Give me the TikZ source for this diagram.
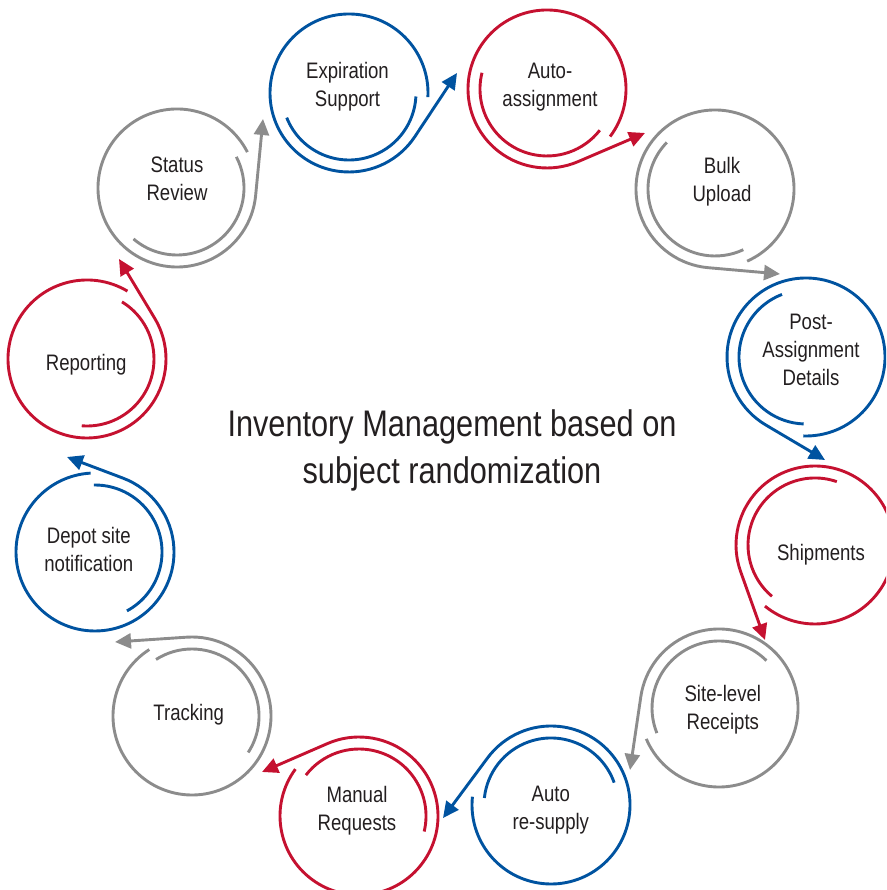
\documentclass[tikz,border=0pt]{standalone}
\usepackage{fontspec}
\setmainfont{Liberation Sans}[FakeStretch=0.83]
\usetikzlibrary{arrows.meta}
\definecolor{cblue}{RGB}{0,83,160}
\definecolor{cred}{RGB}{197,17,48}
\definecolor{cgray}{RGB}{140,140,140}
\definecolor{ctext}{RGB}{35,31,32}
\newcommand\lastdp{\vphantom{p}}
\tikzset{
  ringline/.style={line width=2.9pt, line cap=butt},
  tipped/.style={-{Triangle[length=16pt,width=15pt]}},
  unit/.style={circle, minimum size=158pt, inner sep=0pt, draw=none},
  lbl/.style={align=center, inner sep=0pt, text=ctext, font=\fontsize{22.4}{28}\selectfont},
  ttl/.style={align=center, inner sep=0pt, text=ctext, font=\fontsize{37}{46.3}\selectfont},
}
\begin{document}
\begin{tikzpicture}[x=1pt,y=1pt]
\useasboundingbox (0,0) rectangle (886,890);
\clip (0,0) rectangle (886,890);

% circle anchors
\node[unit] (E)  at (349,797) {};
\node[unit] (A)  at (547,801) {};
\node[unit] (B)  at (715,701) {};
\node[unit] (P)  at (806,533) {};
\node[unit] (S)  at (815,345) {};
\node[unit] (SL) at (719,182) {};
\node[unit] (AR) at (551,85) {};
\node[unit] (M)  at (359,74) {};
\node[unit] (T)  at (192,174) {};
\node[unit] (D)  at (95,338) {};
\node[unit] (R)  at (87,531) {};
\node[unit] (SR) at (177,702) {};

% arrow tips
\coordinate (E-tip)  at (457,817);
\coordinate (A-tip)  at (645,757);
\coordinate (B-tip)  at (780,616);
\coordinate (P-tip)  at (825,430);
\coordinate (S-tip)  at (765,250);
\coordinate (SL-tip) at (630,120);
\coordinate (AR-tip) at (443,72);
\coordinate (M-tip)  at (262,118);
\coordinate (T-tip)  at (115,248);
\coordinate (D-tip)  at (67,433);
\coordinate (R-tip)  at (119,631);
\coordinate (SR-tip) at (263,771);

% Expiration Support (blue)
\draw[ringline, cblue] ([shift={(201.6:67)}]E.center) arc[start angle=201.6, end angle=357, radius=67];
\draw[ringline, cblue, tipped] ([shift={(357:79)}]E.center) arc[start angle=357, end angle=686.5, radius=79] -- (E-tip);
% Auto-assignment (red)
\draw[ringline, cred] ([shift={(166:67)}]A.center) arc[start angle=166, end angle=322, radius=67];
\draw[ringline, cred, tipped] ([shift={(323:79)}]A.center) arc[start angle=323, end angle=653.2, radius=79] -- (A-tip);
% Bulk Upload (gray)
\draw[ringline, cgray] ([shift={(136:67)}]B.center) arc[start angle=136, end angle=295, radius=67];
\draw[ringline, cgray, tipped] ([shift={(294:79)}]B.center) arc[start angle=294, end angle=625, radius=79] -- (B-tip);
% Post-Assignment Details (blue)
\draw[ringline, cblue] ([shift={(111:67)}]P.center) arc[start angle=111, end angle=268, radius=67];
\draw[ringline, cblue, tipped] ([shift={(268:79)}]P.center) arc[start angle=268, end angle=599.45, radius=79] -- (P-tip);
% Shipments (red)
\draw[ringline, cred] ([shift={(71:67)}]S.center) arc[start angle=71, end angle=230, radius=67];
\draw[ringline, cred, tipped] ([shift={(230.7:79)}]S.center) arc[start angle=230.7, end angle=559.6, radius=79] -- (S-tip);
% Site-level Receipts (gray)
\draw[ringline, cgray] ([shift={(45:67)}]SL.center) arc[start angle=45, end angle=202, radius=67];
\draw[ringline, cgray, tipped] ([shift={(203:79)}]SL.center) arc[start angle=203, end angle=531.6, radius=79] -- (SL-tip);
% Auto re-supply (blue)
\draw[ringline, cblue] ([shift={(19.5:67)}]AR.center) arc[start angle=19.5, end angle=174, radius=67];
\draw[ringline, cblue, tipped] ([shift={(174:79)}]AR.center) arc[start angle=174, end angle=503.4, radius=79] -- (AR-tip);
% Manual Requests (red)
\draw[ringline, cred] ([shift={(346.6:67)}]M.center) arc[start angle=346.6, end angle=502.4, radius=67];
\draw[ringline, cred, tipped] ([shift={(143.6:79)}]M.center) arc[start angle=143.6, end angle=473.5, radius=79] -- (M-tip);
% Tracking (gray)
\draw[ringline, cgray] ([shift={(327:67)}]T.center) arc[start angle=327, end angle=482.5, radius=67];
\draw[ringline, cgray, tipped] ([shift={(122.7:79)}]T.center) arc[start angle=122.7, end angle=453.8, radius=79] -- (T-tip);
% Depot site notification (blue)
\draw[ringline, cblue] ([shift={(298.5:67)}]D.center) arc[start angle=298.5, end angle=451, radius=67];
\draw[ringline, cblue, tipped] ([shift={(93.2:79)}]D.center) arc[start angle=93.2, end angle=429.4, radius=79] -- (D-tip);
% Reporting (red)
\draw[ringline, cred] ([shift={(265.5:67)}]R.center) arc[start angle=265.5, end angle=418.5, radius=67];
\draw[ringline, cred, tipped] ([shift={(59.2:79)}]R.center) arc[start angle=59.2, end angle=391, radius=79] -- (R-tip);
% Status Review (gray)
\draw[ringline, cgray] ([shift={(229.5:67)}]SR.center) arc[start angle=229.5, end angle=387.7, radius=67];
\draw[ringline, cgray, tipped] ([shift={(27:79)}]SR.center) arc[start angle=27, end angle=354.5, radius=79] -- (SR-tip);

% labels
\node[lbl] (E-l)  at (347.5,803.65) {Expiration\\Support\lastdp};
\node[lbl] (A-l)  at (550,803.3) {Auto-\\assignment\lastdp};
\node[lbl] (B-l)  at (722,708.3) {Bulk\\Upload\lastdp};
\node[lbl] (P-l)  at (811,537.65) {Post-\\Assignment\\Details\lastdp};
\node[lbl] (S-l)  at (821,335.65) {Shipments\lastdp};
\node[lbl] (SL-l) at (722.8,180) {Site-level\\Receipts\lastdp};
\node[lbl] (AR-l) at (550.8,80) {Auto\\re-supply\lastdp};
\node[lbl] (M-l)  at (357,79) {Manual\\Requests\lastdp};
\node[lbl] (T-l)  at (188.7,175) {Tracking\lastdp};
\node[lbl] (D-l)  at (88.8,338.3) {Depot site\\notification\lastdp};
\node[lbl] (R-l)  at (86.2,525.65) {Reporting\lastdp};
\node[lbl] (SR-l) at (177,709) {Status\\Review\lastdp};

\node[ttl] (title) at (452,439.5) {Inventory Management based on\\subject randomization\lastdp};
\end{tikzpicture}
\end{document}
